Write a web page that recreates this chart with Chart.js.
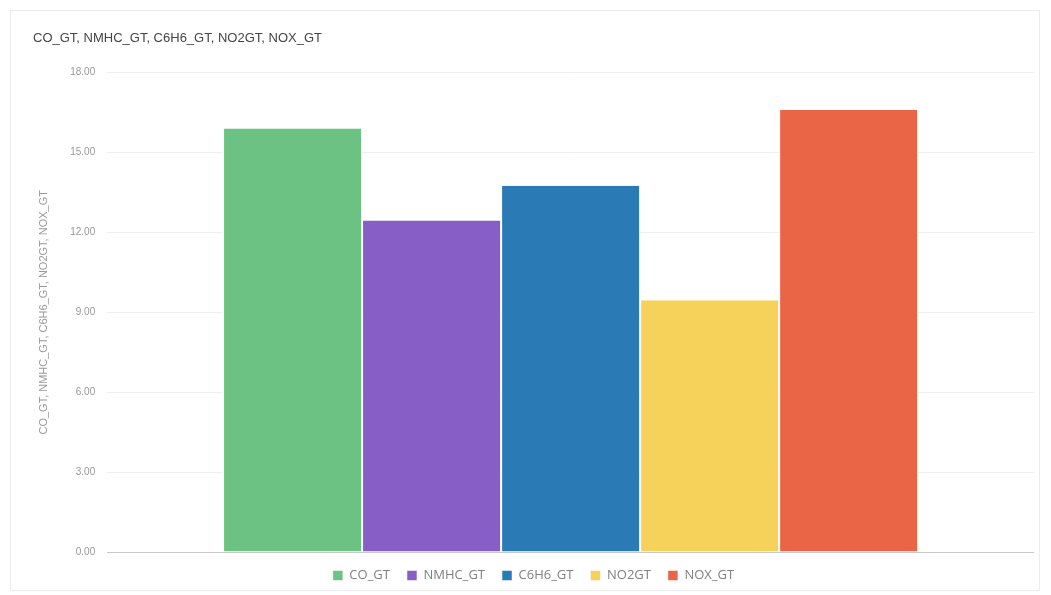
<!DOCTYPE html>
<html>
<head>
<meta charset="utf-8">
<script src="https://cdn.jsdelivr.net/npm/chart.js@4.4.1/dist/chart.umd.min.js"></script>
<style>
  html, body { margin: 0; padding: 0; background: #fff; overflow: hidden; width: 1051px; height: 595px; }
  #card { position: absolute; left: 10px; top: 10px; width: 1030px; height: 581px; border: 1px solid #ececec; box-sizing: border-box; }
  #wrap { position: absolute; left: 2px; top: 0; width: 1021px; height: 581px; }
</style>
</head>
<body>
<div id="card"><div id="wrap"><canvas id="c"></canvas></div></div>
<script>
const categories = [''];
const seriesNames = ['CO_GT', 'NMHC_GT', 'C6H6_GT', 'NO2GT', 'NOX_GT'];
const seriesValues = [15.9, 12.45, 13.75, 9.45, 16.6];
const seriesColors = ['#6bc283', '#875ec6', '#2a7ab6', '#f6d25b', '#ea6446'];
const yTicks = [0, 3, 6, 9, 12, 15, 18];
const titleText = 'CO_GT, NMHC_GT, C6H6_GT, NO2GT, NOX_GT';

const datasets = seriesNames.map((n, i) => ({
  label: n,
  data: [seriesValues[i]],
  backgroundColor: seriesColors[i],
  borderColor: '#ffffff',
  borderWidth: { left: 1, right: 1, top: 0, bottom: 0 },
  barPercentage: 1.0,
  categoryPercentage: 0.75
}));

new Chart(document.getElementById('c'), {
  type: 'bar',
  data: { labels: categories, datasets },
  options: {
    responsive: true,
    maintainAspectRatio: false,
    animation: false,
    layout: { padding: { left: 20, right: 0, top: 14, bottom: 0 } },
    plugins: {
      title: {
        display: true, text: titleText, align: 'start',
        color: '#444', font: { family: 'Arial, Liberation Sans', size: 13, weight: 'normal' },
        padding: { top: 6, bottom: 26 }
      },
      legend: {
        position: 'bottom',
        labels: { boxWidth: 10, boxHeight: 10, color: '#808080', font: { family: 'Open Sans', size: 13 }, padding: 17 }
      },
      tooltip: { enabled: false }
    },
    scales: {
      x: {
        grid: { display: false, drawTicks: false },
        ticks: { display: false },
        border: { color: '#c8c8c8', width: 1 }
      },
      y: {
        min: 0, max: 18,
        afterBuildTicks: (s) => { s.ticks = yTicks.map(v => ({ value: v })); },
        ticks: { callback: v => Number(v).toFixed(2), color: '#999', font: { family: 'Liberation Sans', size: 10 }, padding: 12 },
        grid: { color: '#efefef', drawTicks: false },
        border: { display: false },
        title: { display: true, text: titleText, color: '#999', font: { family: 'Liberation Sans', size: 11 }, padding: { bottom: 8 } }
      }
    }
  }
});
</script>
</body>
</html>
